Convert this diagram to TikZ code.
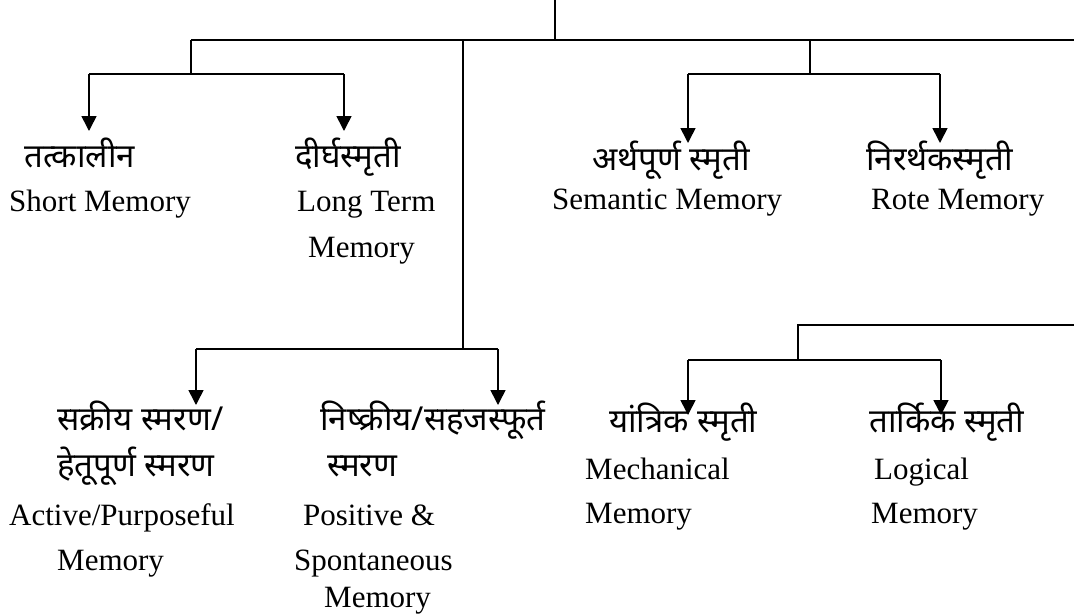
\documentclass[tikz,border=0pt]{standalone}
\usepackage{fontspec}
\setmainfont{Liberation Serif}
\newfontfamily\hin[Script=Devanagari]{Noto Sans}
\usetikzlibrary{arrows.meta}
\tikzset{
  link/.style={line width=1.6pt},
  arr/.style={line width=1.6pt,-{Triangle[width=15pt,length=15pt]}},
  hi/.style={font=\hin\fontsize{33}{40}\selectfont, anchor=base west, inner sep=0pt},
  en/.style={font=\fontsize{31}{37}\selectfont, anchor=base west, inner sep=0pt},
}
\begin{document}
\begin{tikzpicture}[x=1pt,y=-1pt]
\useasboundingbox (0,0) rectangle (1074,614);

% junction points of the tree
\coordinate (root) at (555,0);
\coordinate (j0) at (555,40);
\coordinate (bL) at (191,40);
\coordinate (bC) at (463,40);
\coordinate (bR) at (810,40);
\coordinate (bE) at (1074,40);
\coordinate (lJ) at (191,74);
\coordinate (lA) at (89,74);
\coordinate (lB) at (344,74);
\coordinate (rJ) at (810,74);
\coordinate (rA) at (688,74);
\coordinate (rB) at (940,74);
\coordinate (cJ) at (463,349);
\coordinate (cA) at (196,349);
\coordinate (cB) at (498,349);
\coordinate (mE) at (1074,325);
\coordinate (mC) at (798,325);
\coordinate (mJ) at (798,360);
\coordinate (mA) at (688,360);
\coordinate (mB) at (941,360);

% arrow tips
\coordinate (tA) at (89,131);
\coordinate (tB) at (344,131);
\coordinate (tC) at (688,143);
\coordinate (tD) at (940,143);
\coordinate (tE) at (196,405);
\coordinate (tF) at (498,405);
\coordinate (tG) at (688,415);
\coordinate (tH) at (941,415);

% labels
\node[hi] (stH) at (24,167) {तत्कालीन};
\node[en] (stE) at (9,211) {Short Memory};
\node[hi] (ltH) at (295,167) {दीर्घस्मृती};
\node[en] (ltE) at (297,211) {Long Term};
\node[en] (ltE2) at (308,257) {Memory};
\node[hi] (smH) at (592,170) {अर्थपूर्ण स्मृती};
\node[en] (smE) at (552,209) {Semantic Memory};
\node[hi] (rtH) at (866,170) {निरर्थकस्मृती};
\node[en] (rtE) at (871,209) {Rote Memory};
\node[hi] (acH) at (57,430) {सक्रीय स्मरण/};
\node[hi] (acH2) at (57,476) {हेतूपूर्ण स्मरण};
\node[en] (acE) at (9,525) {Active/Purposeful};
\node[en] (acE2) at (57,570) {Memory};
\node[hi] (psH) at (320,430) {निष्क्रीय/सहजस्फूर्त};
\node[hi] (psH2) at (327,476) {स्मरण};
\node[en] (psE) at (303,525) {Positive \&};
\node[en] (psE2) at (294,570) {Spontaneous};
\node[en] (psE3) at (324,607) {Memory};
\node[hi] (mcH) at (609,432) {यांत्रिक स्मृती};
\node[en] (mcE) at (585,479) {Mechanical};
\node[en] (mcE2) at (585,523) {Memory};
\node[hi] (lgH) at (869,432) {तार्किक स्मृती};
\node[en] (lgE) at (874,479) {Logical};
\node[en] (lgE2) at (871,523) {Memory};

% connectors
\draw[link] (root) -- (j0);
\draw[link] (bL) -- (bE);
\draw[link] (bL) -- (lJ);
\draw[link] (lA) -- (lB);
\draw[arr] (lA) -- (tA);
\draw[arr] (lB) -- (tB);
\draw[link] (bR) -- (rJ);
\draw[link] (rA) -- (rB);
\draw[arr] (rA) -- (tC);
\draw[arr] (rB) -- (tD);
\draw[link] (bC) -- (cJ);
\draw[link] (cA) -- (cB);
\draw[arr] (cA) -- (tE);
\draw[arr] (cB) -- (tF);
\draw[link] (mE) -- (mC) -- (mJ);
\draw[link] (mA) -- (mB);
\draw[arr] (mA) -- (tG);
\draw[arr] (mB) -- (tH);
\end{tikzpicture}
\end{document}
